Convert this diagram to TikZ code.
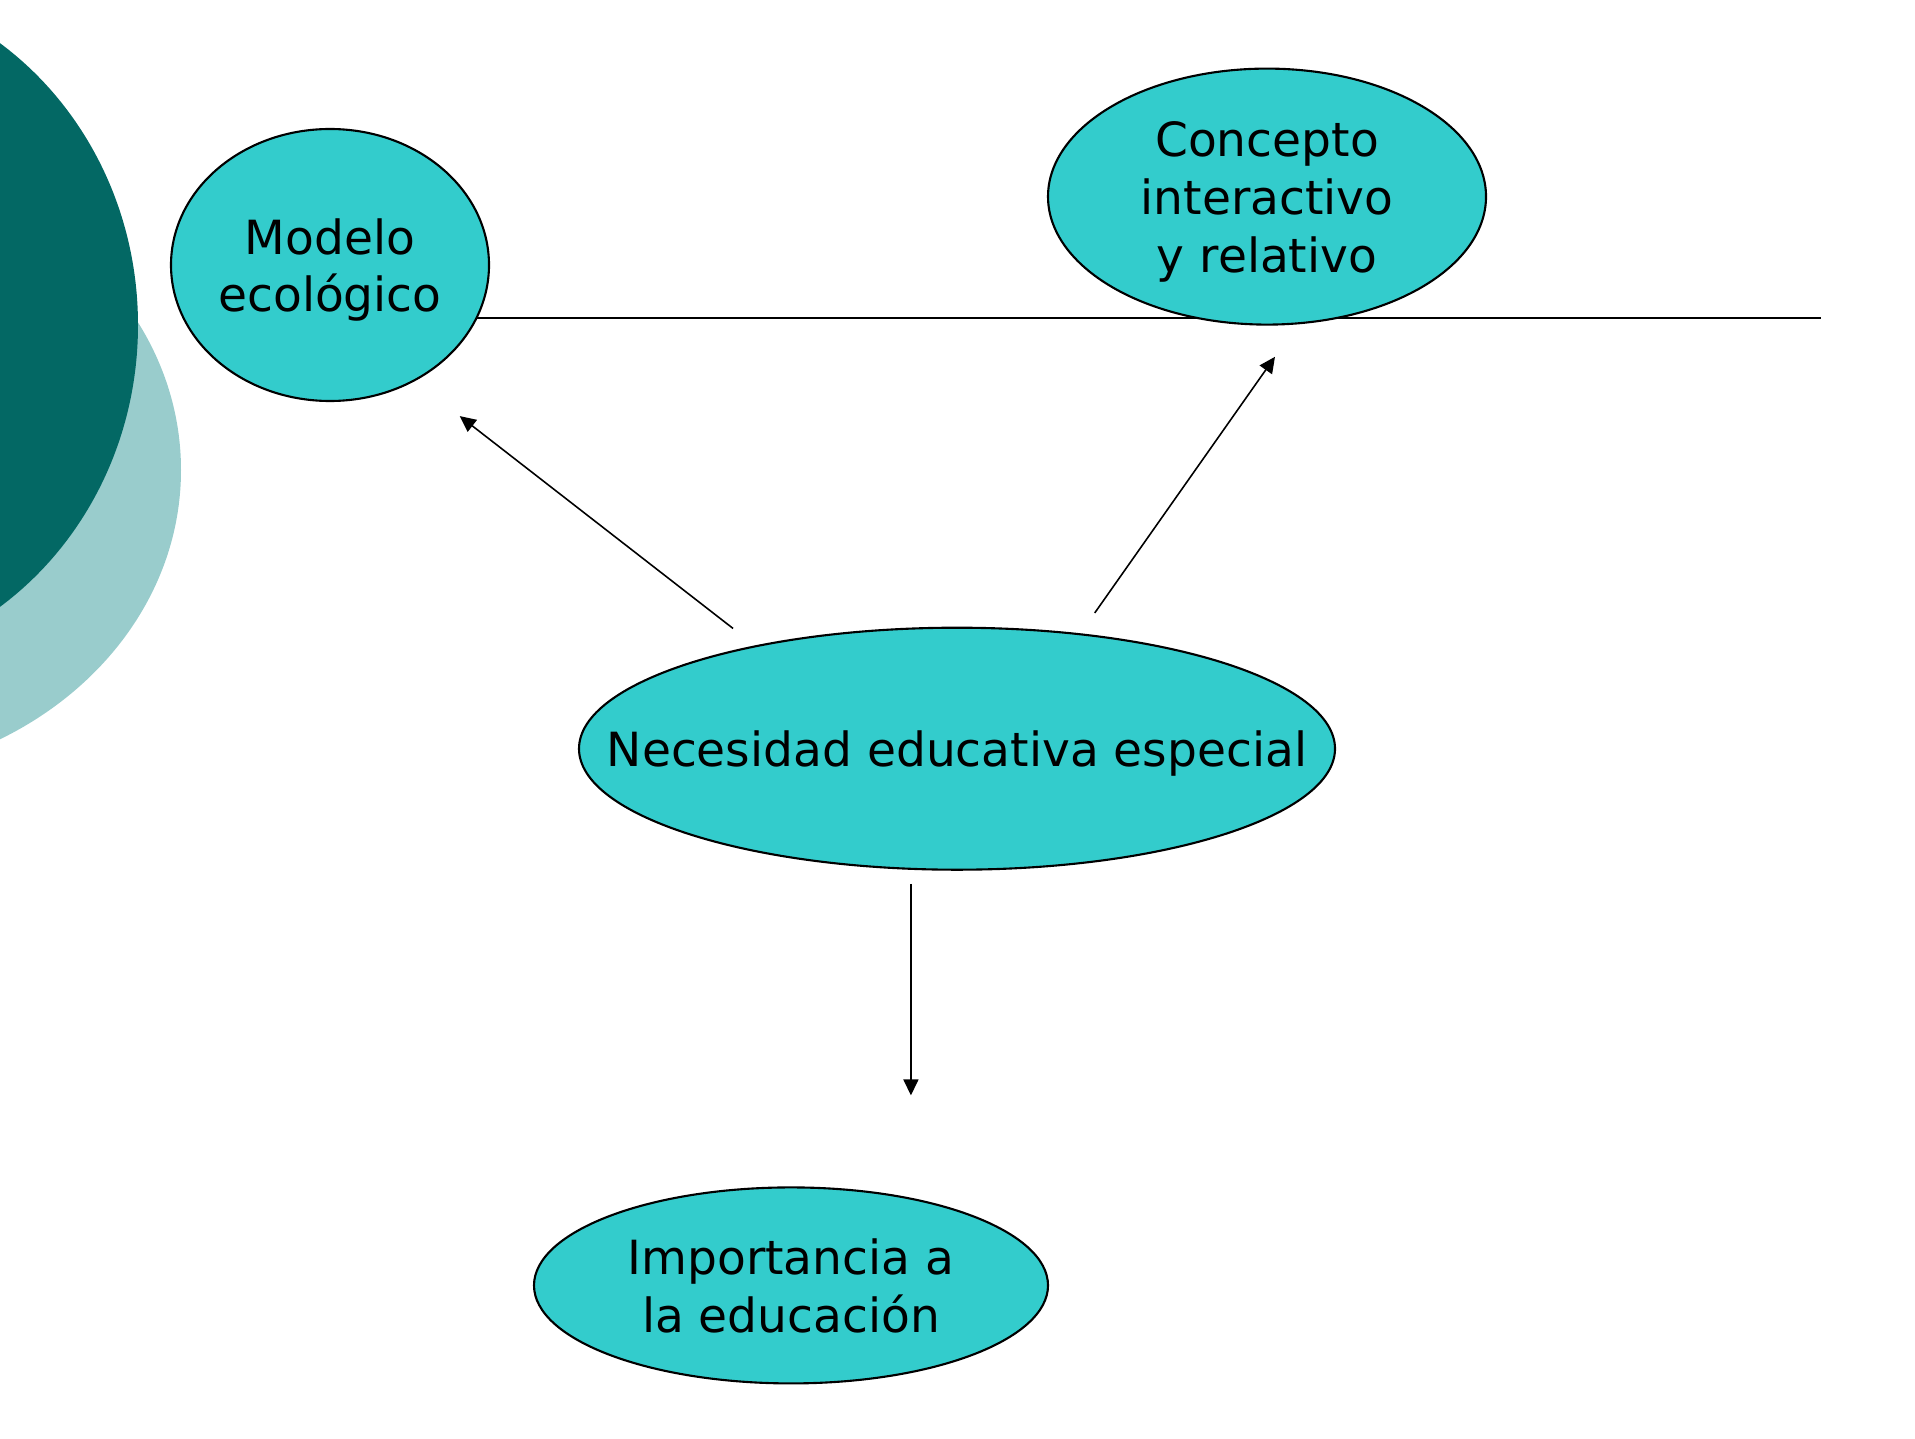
\documentclass[tikz,border=0pt]{standalone}
\usepackage{fontspec}
\setmainfont{DejaVu Sans}
\usetikzlibrary{arrows.meta, shapes.geometric}

\definecolor{tealdark}{HTML}{036864}
\definecolor{teallight}{HTML}{99CCCC}
\definecolor{bubblefill}{HTML}{33CCCC}

% text of a bubble, kept from widening the ellipse
\newcommand{\bubbletext}[1]{\makebox[0pt]{\raisebox{-1.9mm}[0pt][0pt]{\begin{tabular}{@{}c@{}}#1\end{tabular}}}}

\tikzset{
    bubble/.style={ellipse, draw=black, line width=0.6pt, fill=bubblefill, inner sep=0pt, outer sep=0pt,
        font=\fontsize{13.4}{16.4}\selectfont},
    >={Triangle[length=1.6mm, width=1.5mm]}
}

\begin{document}
\begin{tikzpicture}
    \useasboundingbox (0, 0) rectangle (19.15, -14.38); % page

    \begin{scope}
        \fill[teallight] (-1.71, -4.70) ellipse [x radius=3.52, y radius=3.08]; % back circle
        \fill[tealdark] (-1.83, -3.25) ellipse [x radius=3.21, y radius=3.43]; % front circle
    \end{scope}

    \node[bubble, minimum width=3.18cm, minimum height=2.72cm] (mod) at (3.30, -2.65) {\bubbletext{Modelo\\ecológico}};

    \coordinate (lineend) at (18.21, -3.188);
    \draw[line width=0.6pt] (mod.-20.2) -- (mod.-20.2 -| lineend); % rule

    \node[bubble, minimum width=4.38cm, minimum height=2.56cm] (cir) at (12.67, -1.966) {\bubbletext{Concepto\\interactivo\\y relativo}};
    \node[bubble, minimum width=7.56cm, minimum height=2.42cm] (nee) at (9.57, -7.487) {\bubbletext{Necesidad educativa especial}};
    \node[bubble, minimum width=5.14cm, minimum height=1.96cm] (imp) at (7.91, -12.854) {\bubbletext{Importancia a\\la educación}};

    % Arrows
    \draw[->, line width=0.45pt, shorten <=2.9mm, shorten >=5.8mm] (nee.153.3) -- (mod.-54.3);
    \draw[->, line width=0.45pt, shorten <=2.6mm, shorten >=4.1mm] (nee.43.4) -- (cir.-76.5);
    \draw[->, line width=0.45pt, shorten <=1.5mm, shorten >=9.2mm] (nee.-111) -- (imp.north -| nee.-111);
\end{tikzpicture}
\end{document}
